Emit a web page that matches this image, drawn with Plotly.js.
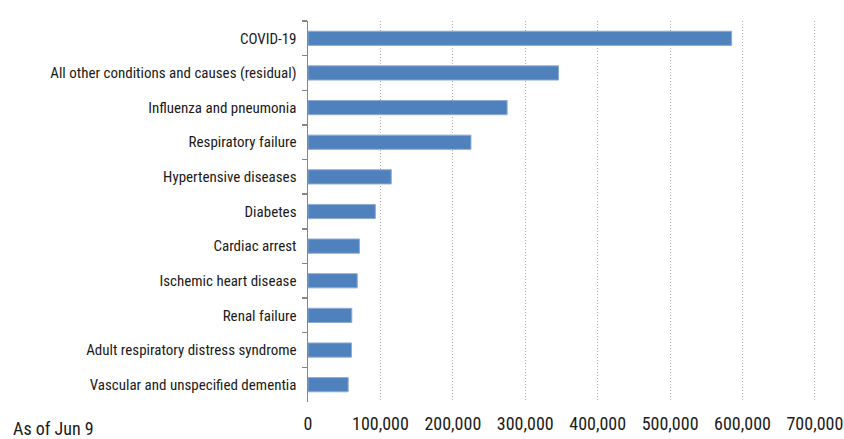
<!DOCTYPE html>
<html>
<head>
<meta charset="utf-8">
<script src="https://cdn.plot.ly/plotly-3.0.1.min.js"></script>
<style>html,body{margin:0;padding:0;background:#fff;}#chart{width:844px;height:439px;}</style>
</head>
<body>
<div id="chart"></div>
<script>
const causes = [
  "COVID-19",
  "All other conditions and causes (residual)",
  "Influenza and pneumonia",
  "Respiratory failure",
  "Hypertensive diseases",
  "Diabetes",
  "Cardiac arrest",
  "Ischemic heart disease",
  "Renal failure",
  "Adult respiratory distress syndrome",
  "Vascular and unspecified dementia"
];
const deaths = [585000, 346000, 275000, 225000, 115000, 93000, 71000, 68000, 60500, 60000, 55500];
const xTickValues = [0, 100000, 200000, 300000, 400000, 500000, 600000, 700000];
const xTickLabels = ["0", "100,000", "200,000", "300,000", "400,000", "500,000", "600,000", "700,000"];
const note = "As of Jun 9";

const FONT = "Roboto Condensed, Liberation Sans Narrow, Arial Narrow, sans-serif";

const trace = {
  type: "bar",
  orientation: "h",
  y: causes,
  x: deaths,
  marker: { color: "#4F81BD", line: { color: "#8EABD4", width: 1 } },
  width: 0.41,
  hoverinfo: "x+y"
};

const layout = {
  width: 844,
  height: 439,
  margin: { l: 308, r: 28, t: 21, b: 37 },
  paper_bgcolor: "#fff",
  plot_bgcolor: "#fff",
  font: { family: FONT, size: 15, color: "#1a1a1a" },
  showlegend: false,
  xaxis: {
    range: [0, 701500],
    tickvals: xTickValues,
    ticktext: xTickLabels,
    showgrid: true,
    gridcolor: "#B0B0B0",
    griddash: "1px,2px",
    gridwidth: 1,
    zeroline: false,
    showline: false,
    ticks: "",
    ticklabelstandoff: 9,
    tickfont: { family: FONT, size: 18, color: "#1a1a1a" },
    fixedrange: true
  },
  yaxis: {
    type: "category",
    categoryorder: "array",
    categoryarray: causes,
    autorange: "reversed",
    showline: true,
    linecolor: "#868686",
    linewidth: 1.5,
    ticks: "outside",
    tickson: "boundaries",
    ticklen: 5,
    tickcolor: "#868686",
    tickwidth: 1.5,
    showgrid: false,
    zeroline: false,
    ticklabelstandoff: 7,
    tickfont: { family: FONT, size: 15, color: "#1a1a1a" },
    fixedrange: true
  },
  annotations: [{
    text: note,
    xref: "paper",
    yref: "paper",
    x: (11 - 308) / 508,
    xanchor: "left",
    y: -0.07,
    yanchor: "middle",
    showarrow: false,
    font: { family: FONT, size: 18, color: "#1a1a1a" }
  }]
};

Plotly.newPlot("chart", [trace], layout, { displayModeBar: false, staticPlot: true });
</script>
</body>
</html>
